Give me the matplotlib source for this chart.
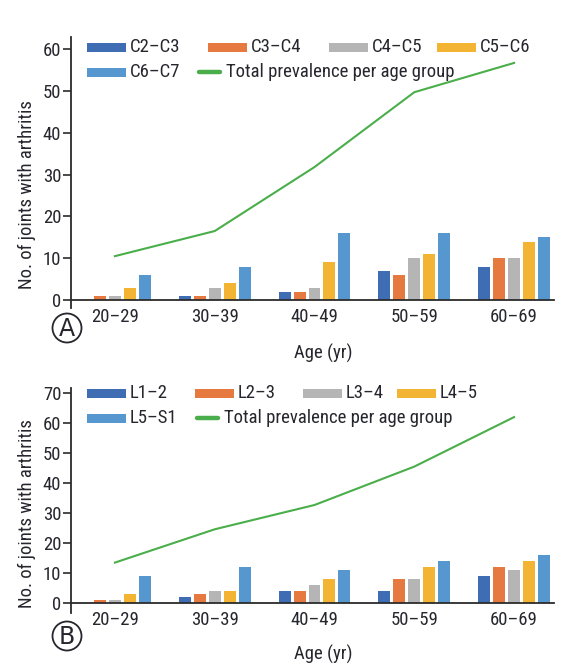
import numpy as np
import matplotlib
matplotlib.use('Agg')
import matplotlib.pyplot as plt
from matplotlib.patches import Rectangle, Ellipse
from matplotlib.lines import Line2D
from matplotlib import font_manager as fm

# condensed font, first one that is installed
installed = set(f.name for f in fm.fontManager.ttflist)
narrow = [f for f in ['Roboto Condensed', 'Archivo Narrow', 'PT Sans Narrow',
                      'Liberation Sans Narrow', 'Arimo'] if f in installed]
plt.rcParams['font.family'] = narrow[:1] + ['DejaVu Sans']
plt.rcParams['font.size'] = 12

# ---------------------------- data ----------------------------
ages = ['20–29', '30–39', '40–49', '50–59', '60–69']

cerv_labels = ['C2–C3', 'C3–C4', 'C4–C5', 'C5–C6', 'C6–C7']
c2_c3 = [0, 1, 2, 7, 8]
c3_c4 = [1, 1, 2, 6, 10]
c4_c5 = [1, 3, 3, 10, 10]
c5_c6 = [3, 4, 9, 11, 14]
c6_c7 = [6, 8, 16, 16, 15]
cerv_total = [10.5, 16.5, 31.8, 49.7, 56.7]

lumb_labels = ['L1–2', 'L2–3', 'L3–4', 'L4–5', 'L5–S1']
l1_2 = [0, 2, 4, 4, 9]
l2_3 = [1, 3, 4, 8, 12]
l3_4 = [1, 4, 6, 8, 11]
l4_5 = [3, 4, 8, 12, 14]
l5_s1 = [9, 12, 11, 14, 16]
lumb_total = [13.5, 24.6, 32.7, 45.5, 62]

total_label = 'Total prevalence per age group'

# ---------------------------- style ----------------------------
bar_colors = ['#3e6db4', '#e5793f', '#b5b5b5', '#f3b433', '#5797cf']
line_color = '#4aae4a'
spine_color = '#2b2b2b'
text_color = '#26262e'
fs = 13.5
W, H = 581, 671

fig = plt.figure(figsize=(W / 100, H / 100), dpi=100)


def px_box(left, top, right, bottom):
    # pixel box (from top-left) -> figure fraction rect
    return [left / W, 1 - bottom / H, (right - left) / W, (bottom - top) / H]


def fig_xy(x, y):
    return x / W, 1 - y / H


def draw_panel(ax, series, total, ymax, yneg, yticks, ylab_y, xlab_y):
    x = np.arange(len(ages))
    offs = (np.arange(5) - 2) * 0.15
    for i, vals in enumerate(series):
        ax.bar(x + offs[i], vals, width=0.12, color=bar_colors[i], zorder=2)
    ax.plot(x, total, color=line_color, lw=1.5, zorder=3)

    ax.set_xlim(-0.44, 4.40)
    ax.set_ylim(yneg, ymax)
    ax.set_yticks(yticks)
    ax.set_xticks(x)
    ax.set_xticklabels(ages)

    for s in ['top', 'right']:
        ax.spines[s].set_visible(False)
    ax.spines['bottom'].set_position(('data', 0))
    for s in ['left', 'bottom']:
        ax.spines[s].set_color(spine_color)
        ax.spines[s].set_linewidth(1.3)
    ax.tick_params(axis='y', length=6, width=1.2, pad=1, color=spine_color,
                   labelsize=fs, labelcolor=text_color)
    ax.tick_params(axis='x', length=0, pad=6, labelsize=fs, labelcolor=text_color)

    ax.set_ylabel('No. of joints with arthritis', fontsize=fs, color=text_color)
    ax.yaxis.set_label_coords(-0.072, ylab_y)
    ax.set_xlabel('Age (yr)', fontsize=fs, color=text_color)
    ax.xaxis.set_label_coords(0.522, xlab_y)


def legend_rows(row1_y, row2_y, patch_x, labels, line_x):
    # row 1: first four series, row 2: fifth series + total line
    for i in range(4):
        x0 = patch_x[i]
        fig.add_artist(Rectangle(fig_xy(x0, row1_y + 4.5), 39 / W, 9 / H,
                                 transform=fig.transFigure,
                                 color=bar_colors[i], lw=0))
        tx, ty = fig_xy(x0 + 43, row1_y)
        fig.text(tx, ty, labels[i], ha='left', va='center', fontsize=fs,
                 color=text_color)
    fig.add_artist(Rectangle(fig_xy(87, row2_y + 4.5), 39 / W, 9 / H,
                             transform=fig.transFigure,
                             color=bar_colors[4], lw=0))
    tx, ty = fig_xy(130, row2_y)
    fig.text(tx, ty, labels[4], ha='left', va='center', fontsize=fs,
             color=text_color)
    xa, ya = fig_xy(line_x, row2_y)
    xb, _ = fig_xy(line_x + 21, row2_y)
    fig.add_artist(Line2D([xa, xb], [ya, ya], transform=fig.transFigure,
                          color=line_color, lw=3.2, solid_capstyle='round'))
    tx, ty = fig_xy(line_x + 27, row2_y)
    fig.text(tx, ty, total_label, ha='left', va='center', fontsize=fs,
             color=text_color)


def panel_letter(cx, cy, letter):
    fx, fy = fig_xy(cx, cy)
    fig.add_artist(Ellipse((fx, fy), 29 / W, 29 / H, transform=fig.transFigure,
                           fill=False, ec=text_color, lw=1.3))
    fig.text(fx, fy - 0.5 / H, letter, ha='center', va='center',
             fontsize=17, family='DejaVu Sans', color=text_color)


# ---------------------------- panel A ----------------------------
axA = fig.add_axes(px_box(71, 37, 554, 308))
draw_panel(axA, [c2_c3, c3_c4, c4_c5, c5_c6, c6_c7], cerv_total,
           62.9, -1.9, np.arange(0, 61, 10), 0.42, -0.133)
legend_rows(47.5, 72, [87, 208, 329, 437], cerv_labels, 199)
panel_letter(67, 328, 'A')

# ---------------------------- panel B ----------------------------
axB = fig.add_axes(px_box(71, 388, 554, 613))
draw_panel(axB, [l1_2, l2_3, l3_4, l4_5, l5_s1], lumb_total,
           71.7, -3.3, np.arange(0, 71, 10), 0.444, -0.142)
legend_rows(393, 418, [87, 195, 303, 397], lumb_labels, 197)
panel_letter(67, 636, 'B')

plt.savefig('out.png', dpi=100)
